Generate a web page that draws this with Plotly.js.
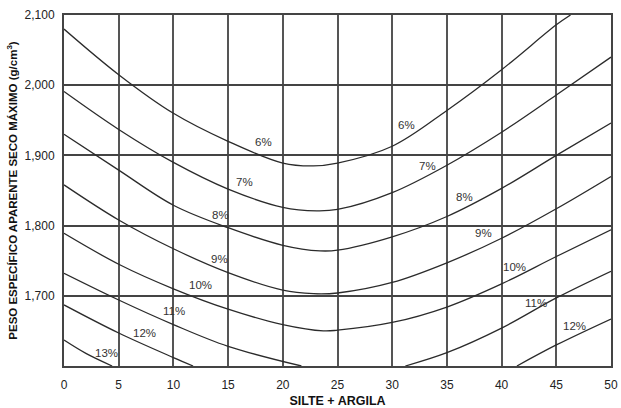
<!DOCTYPE html>
<html>
<head>
<meta charset="utf-8">
<script src="https://cdn.plot.ly/plotly-3.0.1.min.js"></script>
<style>html,body{margin:0;padding:0;background:#fff;}#chart{width:621px;height:408px;}</style>
</head>
<body>
<div id="chart"></div>
<script>
// Curves of constant moisture content (umidade ótima)
const x6 = [0, 5, 10, 15, 20, 22.8, 25, 30, 35, 40, 45, 46.3];
const y6 = [2080, 2015, 1960, 1920, 1889, 1885, 1889, 1913, 1964, 2022, 2086, 2100];

const x7 = [0, 5, 10, 15, 20, 23.1, 25, 30, 35, 40, 45, 50];
const y7 = [1991, 1937, 1890, 1852, 1826, 1821, 1823, 1847, 1886, 1933, 1986, 2040];

const x8 = [0, 5, 10, 15, 20, 23.4, 25, 30, 35, 40, 45, 50];
const y8 = [1930, 1879, 1829, 1797, 1772, 1764, 1765, 1784, 1813, 1853, 1900, 1946];

const x9 = [0, 5, 10, 15, 20, 22.8, 25, 30, 35, 40, 45, 50];
const y9 = [1858, 1808, 1767, 1733, 1708, 1703, 1704, 1719, 1747, 1782, 1824, 1870];

const x10 = [0, 5, 10, 15, 20, 23.7, 25, 30, 35, 40, 45, 50];
const y10 = [1789, 1745, 1710, 1681, 1659, 1650, 1651, 1662, 1684, 1717, 1756, 1794];

const x11a = [0, 5, 10, 15, 21.7];
const y11a = [1732, 1694, 1659, 1628, 1600];
const x11b = [31.2, 35, 40, 45, 50];
const y11b = [1600, 1619, 1654, 1697, 1735];

const x12a = [0, 5, 10, 11.8];
const y12a = [1687, 1647, 1612, 1600];
const x12b = [41.4, 45, 50];
const y12b = [1600, 1630, 1667];

const x13 = [0, 2, 4.4];
const y13 = [1637, 1618, 1600];

// Curve labels
const labelText = ["6%", "6%", "7%", "7%", "8%", "8%", "9%", "9%", "10%", "10%", "11%", "11%", "12%", "12%", "13%"];
const labelX = [18.2, 31.3, 16.5, 33.2, 14.3, 36.6, 14.2, 38.3, 12.5, 41.2, 10.1, 43.1, 7.4, 46.7, 3.9];
const labelY = [1919, 1944, 1862, 1885, 1815, 1841, 1752, 1789, 1715, 1741, 1679, 1690, 1647, 1657, 1618];

// Axis ticks
const xTicks = [0, 5, 10, 15, 20, 25, 30, 35, 40, 45, 50];
const yTickVals = [1700, 1800, 1900, 2000, 2100];
const yTickText = ["1,700", "1,800", "1,900", "2,000", "2,100"];

const curves = [[x6, y6], [x7, y7], [x8, y8], [x9, y9], [x10, y10], [x11a, y11a], [x11b, y11b], [x12a, y12a], [x12b, y12b], [x13, y13]];
const traces = curves.map(c => ({
  x: c[0], y: c[1], type: 'scatter', mode: 'lines',
  line: {color: '#2b2b2b', width: 1.3, shape: 'spline', smoothing: 1},
  hoverinfo: 'skip', showlegend: false
}));

const annotations = labelText.map((t, i) => ({
  x: labelX[i], y: labelY[i], xref: 'x', yref: 'y', text: t, showarrow: false,
  font: {family: 'Liberation Sans, Arial, sans-serif', size: 11.5, color: '#333'}
}));

const layout = {
  width: 621, height: 408,
  margin: {l: 64, r: 10, t: 15, b: 42},
  paper_bgcolor: '#fff', plot_bgcolor: '#fff',
  showlegend: false,
  font: {family: 'Liberation Sans, Arial, sans-serif', size: 12, color: '#222'},
  xaxis: {
    range: [0, 50], tickvals: xTicks, ticktext: xTicks.map(String),
    showgrid: true, gridcolor: '#555', gridwidth: 2,
    showline: true, linecolor: '#444', linewidth: 2, mirror: true,
    zeroline: false, ticks: 'outside', ticklen: 7, tickcolor: 'rgba(0,0,0,0)',
    tickfont: {size: 12, color: '#222'},
    title: {text: '<b>SILTE + ARGILA</b>', font: {size: 12.5, color: '#111'}, standoff: 10}
  },
  yaxis: {
    range: [1600, 2100], tickvals: yTickVals, ticktext: yTickText,
    showgrid: true, gridcolor: '#444', gridwidth: 2,
    showline: true, linecolor: '#444', linewidth: 2, mirror: true,
    zeroline: false, ticks: 'outside', ticklen: 5, tickcolor: 'rgba(0,0,0,0)',
    tickfont: {size: 12, color: '#222'},
    title: {text: '<b>PESO ESPECÍFICO APARENTE SECO MÁXIMO (g/cm<sup>3</sup>)</b>', font: {size: 11.5, color: '#111'}, standoff: 5}
  },
  annotations: annotations
};

Plotly.newPlot('chart', traces, layout, {staticPlot: true, displayModeBar: false});
</script>
</body>
</html>
